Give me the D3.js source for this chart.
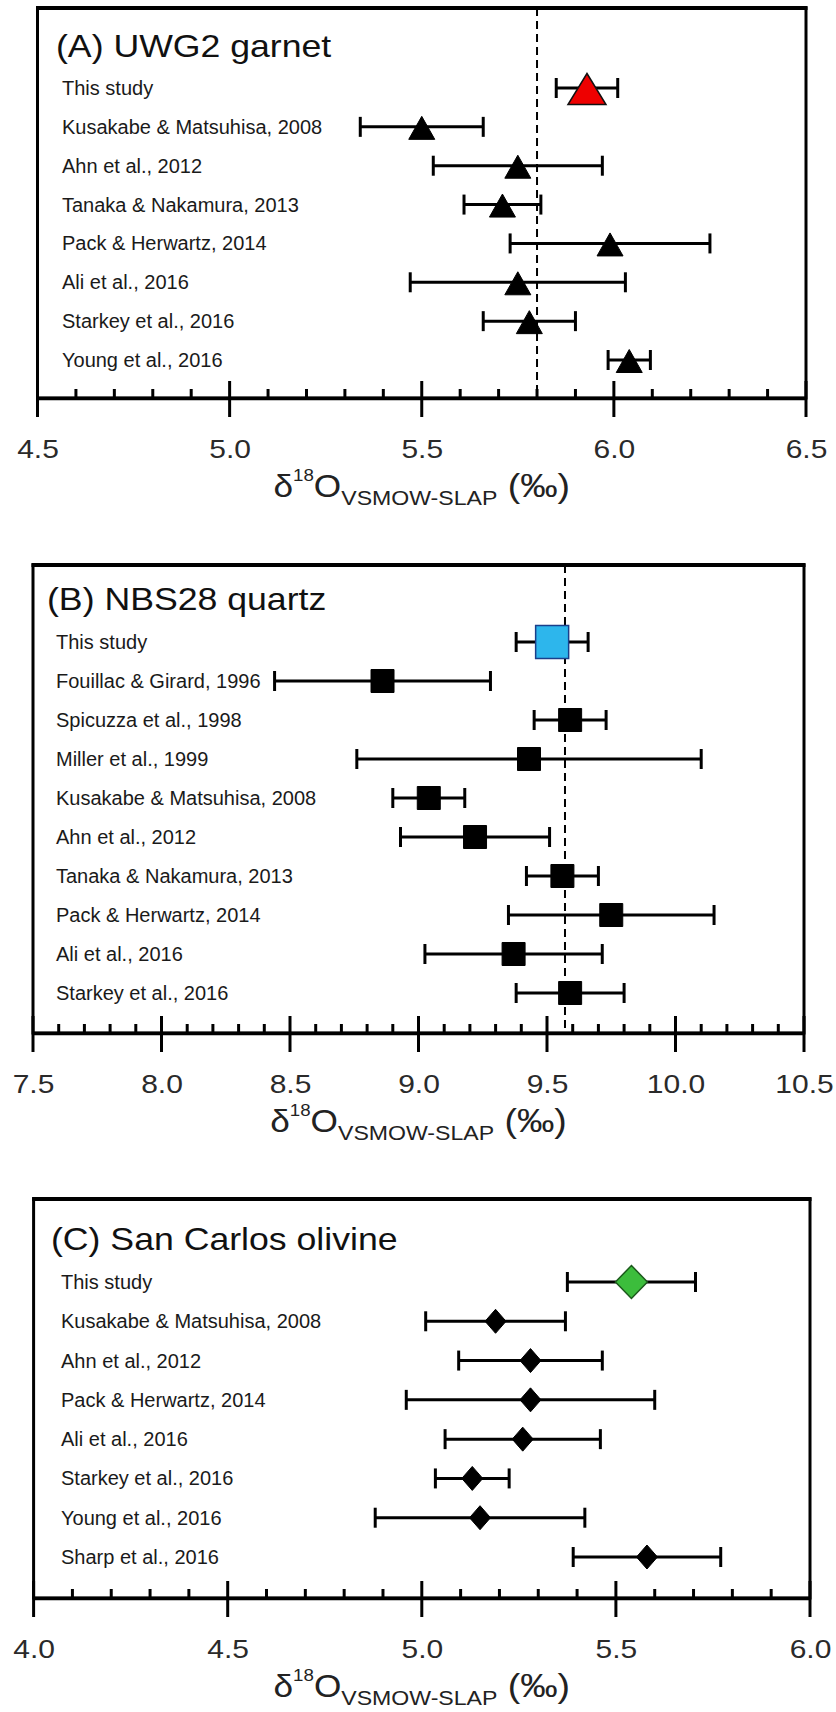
<!DOCTYPE html>
<html>
<head>
<meta charset="utf-8">
<script src="https://cdn.jsdelivr.net/npm/d3@7"></script>
<style>
  body { margin: 0; background: #fff; }
  svg { display: block; font-family: 'Liberation Sans', Arial, sans-serif; }
</style>
</head>
<body>
<div id="chart"></div>
<script>
// delta-18O of three reference minerals, mean +/- error per study
const garnetStudies = ['This study', 'Kusakabe & Matsuhisa, 2008', 'Ahn et al., 2012', 'Tanaka & Nakamura, 2013',
  'Pack & Herwartz, 2014', 'Ali et al., 2016', 'Starkey et al., 2016', 'Young et al., 2016']
const garnetMeans = [5.93, 5.50, 5.75, 5.71, 5.99, 5.75, 5.78, 6.04]
const garnetErrors = [0.08, 0.16, 0.22, 0.10, 0.26, 0.28, 0.12, 0.055]

const quartzStudies = ['This study', 'Fouillac & Girard, 1996', 'Spicuzza et al., 1998', 'Miller et al., 1999',
  'Kusakabe & Matsuhisa, 2008', 'Ahn et al., 2012', 'Tanaka & Nakamura, 2013', 'Pack & Herwartz, 2014',
  'Ali et al., 2016', 'Starkey et al., 2016']
const quartzMeans = [9.52, 8.86, 9.59, 9.43, 9.04, 9.22, 9.56, 9.75, 9.37, 9.59]
const quartzErrors = [0.14, 0.42, 0.14, 0.67, 0.14, 0.29, 0.14, 0.40, 0.345, 0.21]

const olivineStudies = ['This study', 'Kusakabe & Matsuhisa, 2008', 'Ahn et al., 2012', 'Pack & Herwartz, 2014',
  'Ali et al., 2016', 'Starkey et al., 2016', 'Young et al., 2016', 'Sharp et al., 2016']
const olivineMeans = [5.54, 5.19, 5.28, 5.28, 5.26, 5.13, 5.15, 5.58]
const olivineErrors = [0.165, 0.18, 0.185, 0.32, 0.20, 0.095, 0.27, 0.19]

// x domains and accepted values (null = no reference line)
const garnetDomain = [4.5, 6.5]
const quartzDomain = [7.5, 10.5]
const olivineDomain = [4.0, 6.0]
const garnetAccepted = 5.80
const quartzAccepted = 9.57

const width = 836
const height = 1712

// marker shapes, centred on 0,0
const shapes = {
  triangle: (w, h) => `M0,${-h / 2}L${w / 2},${h / 2}L${-w / 2},${h / 2}Z`,
  square: (w, h) => `M${-w / 2},${-h / 2}H${w / 2}V${h / 2}H${-w / 2}Z`,
  diamond: (w, h) => `M0,${-h / 2}L${w / 2},0L0,${h / 2}L${-w / 2},0Z`
}

const panels = [
  {
    title: '(A) UWG2 garnet', studies: garnetStudies, means: garnetMeans, errors: garnetErrors,
    domain: garnetDomain, accepted: garnetAccepted,
    left: 37.5, right: 806, top: 8, axisY: 398, firstRow: 88, lastRow: 360,
    titleX: 56, titleY: 57, labelX: 62,
    shape: 'triangle', size: [26, 23], hiSize: [38, 31], hiFill: '#ee0000', hiStroke: '#111'
  },
  {
    title: '(B) NBS28 quartz', studies: quartzStudies, means: quartzMeans, errors: quartzErrors,
    domain: quartzDomain, accepted: quartzAccepted,
    left: 33, right: 804, top: 565, axisY: 1033, firstRow: 642, lastRow: 993,
    titleX: 47, titleY: 610, labelX: 56,
    shape: 'square', size: [23, 23], hiSize: [33, 33], hiFill: '#2db6ec', hiStroke: '#1a3f8a'
  },
  {
    title: '(C) San Carlos olivine', studies: olivineStudies, means: olivineMeans, errors: olivineErrors,
    domain: olivineDomain, accepted: null,
    left: 33.6, right: 810, top: 1199, axisY: 1598, firstRow: 1282, lastRow: 1557,
    titleX: 51, titleY: 1250, labelX: 61,
    shape: 'diamond', size: [21, 24], hiSize: [32, 33], hiFill: '#3cbd3c', hiStroke: '#1c5a1c'
  }
]

const svg = d3
  .select('#chart')
  .append('svg')
  .attr('width', width)
  .attr('height', height)

svg.append('rect').attr('width', width).attr('height', height).attr('fill', '#fff')

panels.forEach(drawPanel)

function drawPanel(p) {
  const x = d3.scaleLinear().domain(p.domain).range([p.left, p.right])
  const y = d3.scalePoint().domain(p.studies).range([p.firstRow, p.lastRow])
  const rows = p.studies.map((s, i) => ({ study: s, mean: p.means[i], err: p.errors[i], i: i }))

  const g = svg.append('g')

  // frame
  g.append('rect')
    .attr('x', p.left)
    .attr('y', p.top)
    .attr('width', p.right - p.left)
    .attr('height', p.axisY - p.top)
    .attr('fill', 'none')
    .attr('stroke', '#000')
    .attr('stroke-width', 3)

  g.append('line')
    .attr('x1', p.left - 1.5)
    .attr('x2', p.right + 1.5)
    .attr('y1', p.top)
    .attr('y2', p.top)
    .attr('stroke', '#000')
    .attr('stroke-width', 4)

  // axis with tick labels
  const d0 = p.domain[0]
  const d1 = p.domain[1]
  const majors = d3.ticks(d0, d1, (d1 - d0) / 0.5)
  const minors = d3.ticks(d0, d1, (d1 - d0) / 0.1)
    .filter(v => Math.abs(v * 2 - Math.round(v * 2)) > 1e-6)

  const axis = g.append('g')
    .attr('transform', `translate(0,${p.axisY})`)
    .call(d3.axisBottom(x).tickValues(majors).tickSize(0).tickSizeOuter(0).tickFormat(d3.format('.1f')))

  axis.select('.domain').attr('stroke', '#000').attr('stroke-width', 3.5)
  axis.selectAll('.tick text')
    .attr('y', 60)
    .attr('dy', 0)
    .attr('transform', 'scale(1.2,1)')
    .style('font-size', '25px')
    .style('font-family', "'Liberation Sans', Arial, sans-serif")
    .attr('fill', '#2a2a2a')

  axis.selectAll('.major')
    .data(majors)
    .enter()
    .append('line')
    .attr('class', 'major')
    .attr('x1', d => x(d))
    .attr('x2', d => x(d))
    .attr('y1', -17)
    .attr('y2', 19)
    .attr('stroke', '#000')
    .attr('stroke-width', 3)

  axis.selectAll('.minor')
    .data(minors)
    .enter()
    .append('line')
    .attr('class', 'minor')
    .attr('x1', d => x(d))
    .attr('x2', d => x(d))
    .attr('y1', -9)
    .attr('y2', 0)
    .attr('stroke', '#000')
    .attr('stroke-width', 3)

  // axis title
  const cx = (p.left + p.right) / 2
  const xt = g.append('text')
    .attr('transform', `translate(${cx},${p.axisY + 99}) scale(1.1,1)`)
    .attr('text-anchor', 'middle')
    .attr('fill', '#222')
    .style('font-size', '32px')
  xt.append('tspan').text('δ')
  xt.append('tspan').attr('dy', -16).style('font-size', '17px').text('18')
  xt.append('tspan').attr('dy', 16).text('O')
  xt.append('tspan').attr('dy', 8).style('font-size', '21px').text('VSMOW-SLAP')
  xt.append('tspan').attr('dy', -8).style('font-size', '34px').text(' (‰)')

  // panel title
  g.append('text')
    .attr('transform', `translate(${p.titleX},${p.titleY}) scale(1.15,1)`)
    .style('font-size', '31px')
    .attr('fill', '#111')
    .text(p.title)

  // study labels
  g.selectAll('.study-label')
    .data(rows)
    .enter()
    .append('text')
    .attr('class', 'study-label')
    .attr('x', p.labelX)
    .attr('y', d => y(d.study) + 7)
    .style('font-size', '20px')
    .attr('fill', '#1a1a1a')
    .text(d => d.study)

  // accepted value
  if (p.accepted !== null) {
    g.append('line')
      .attr('x1', x(p.accepted))
      .attr('x2', x(p.accepted))
      .attr('y1', p.top)
      .attr('y2', p.axisY)
      .attr('stroke', '#000')
      .attr('stroke-width', 2)
      .attr('stroke-dasharray', '8,5')
  }

  // error bars
  const bars = g.selectAll('.err')
    .data(rows)
    .enter()
    .append('g')
    .attr('class', 'err')
    .attr('stroke', '#000')
    .attr('stroke-width', 3)

  bars.append('line')
    .attr('x1', d => x(d.mean - d.err))
    .attr('x2', d => x(d.mean + d.err))
    .attr('y1', d => y(d.study))
    .attr('y2', d => y(d.study))

  bars.selectAll('.cap')
    .data(d => [
      { v: d.mean - d.err, s: d.study },
      { v: d.mean + d.err, s: d.study }
    ])
    .enter()
    .append('line')
    .attr('class', 'cap')
    .attr('x1', d => x(d.v))
    .attr('x2', d => x(d.v))
    .attr('y1', d => y(d.s) - 10)
    .attr('y2', d => y(d.s) + 10)

  // markers
  g.selectAll('.marker')
    .data(rows)
    .enter()
    .append('path')
    .attr('class', 'marker')
    .attr('transform', d => `translate(${x(d.mean)},${y(d.study) + (p.shape === 'triangle' ? 1 : 0)})`)
    .attr('d', d => {
      const s = d.i === 0 ? p.hiSize : p.size
      return shapes[p.shape](s[0], s[1])
    })
    .attr('fill', d => (d.i === 0 ? p.hiFill : '#000'))
    .attr('stroke', d => (d.i === 0 ? p.hiStroke : '#000'))
    .attr('stroke-width', d => (d.i === 0 ? 1.5 : 1))
}
</script>
</body>
</html>
